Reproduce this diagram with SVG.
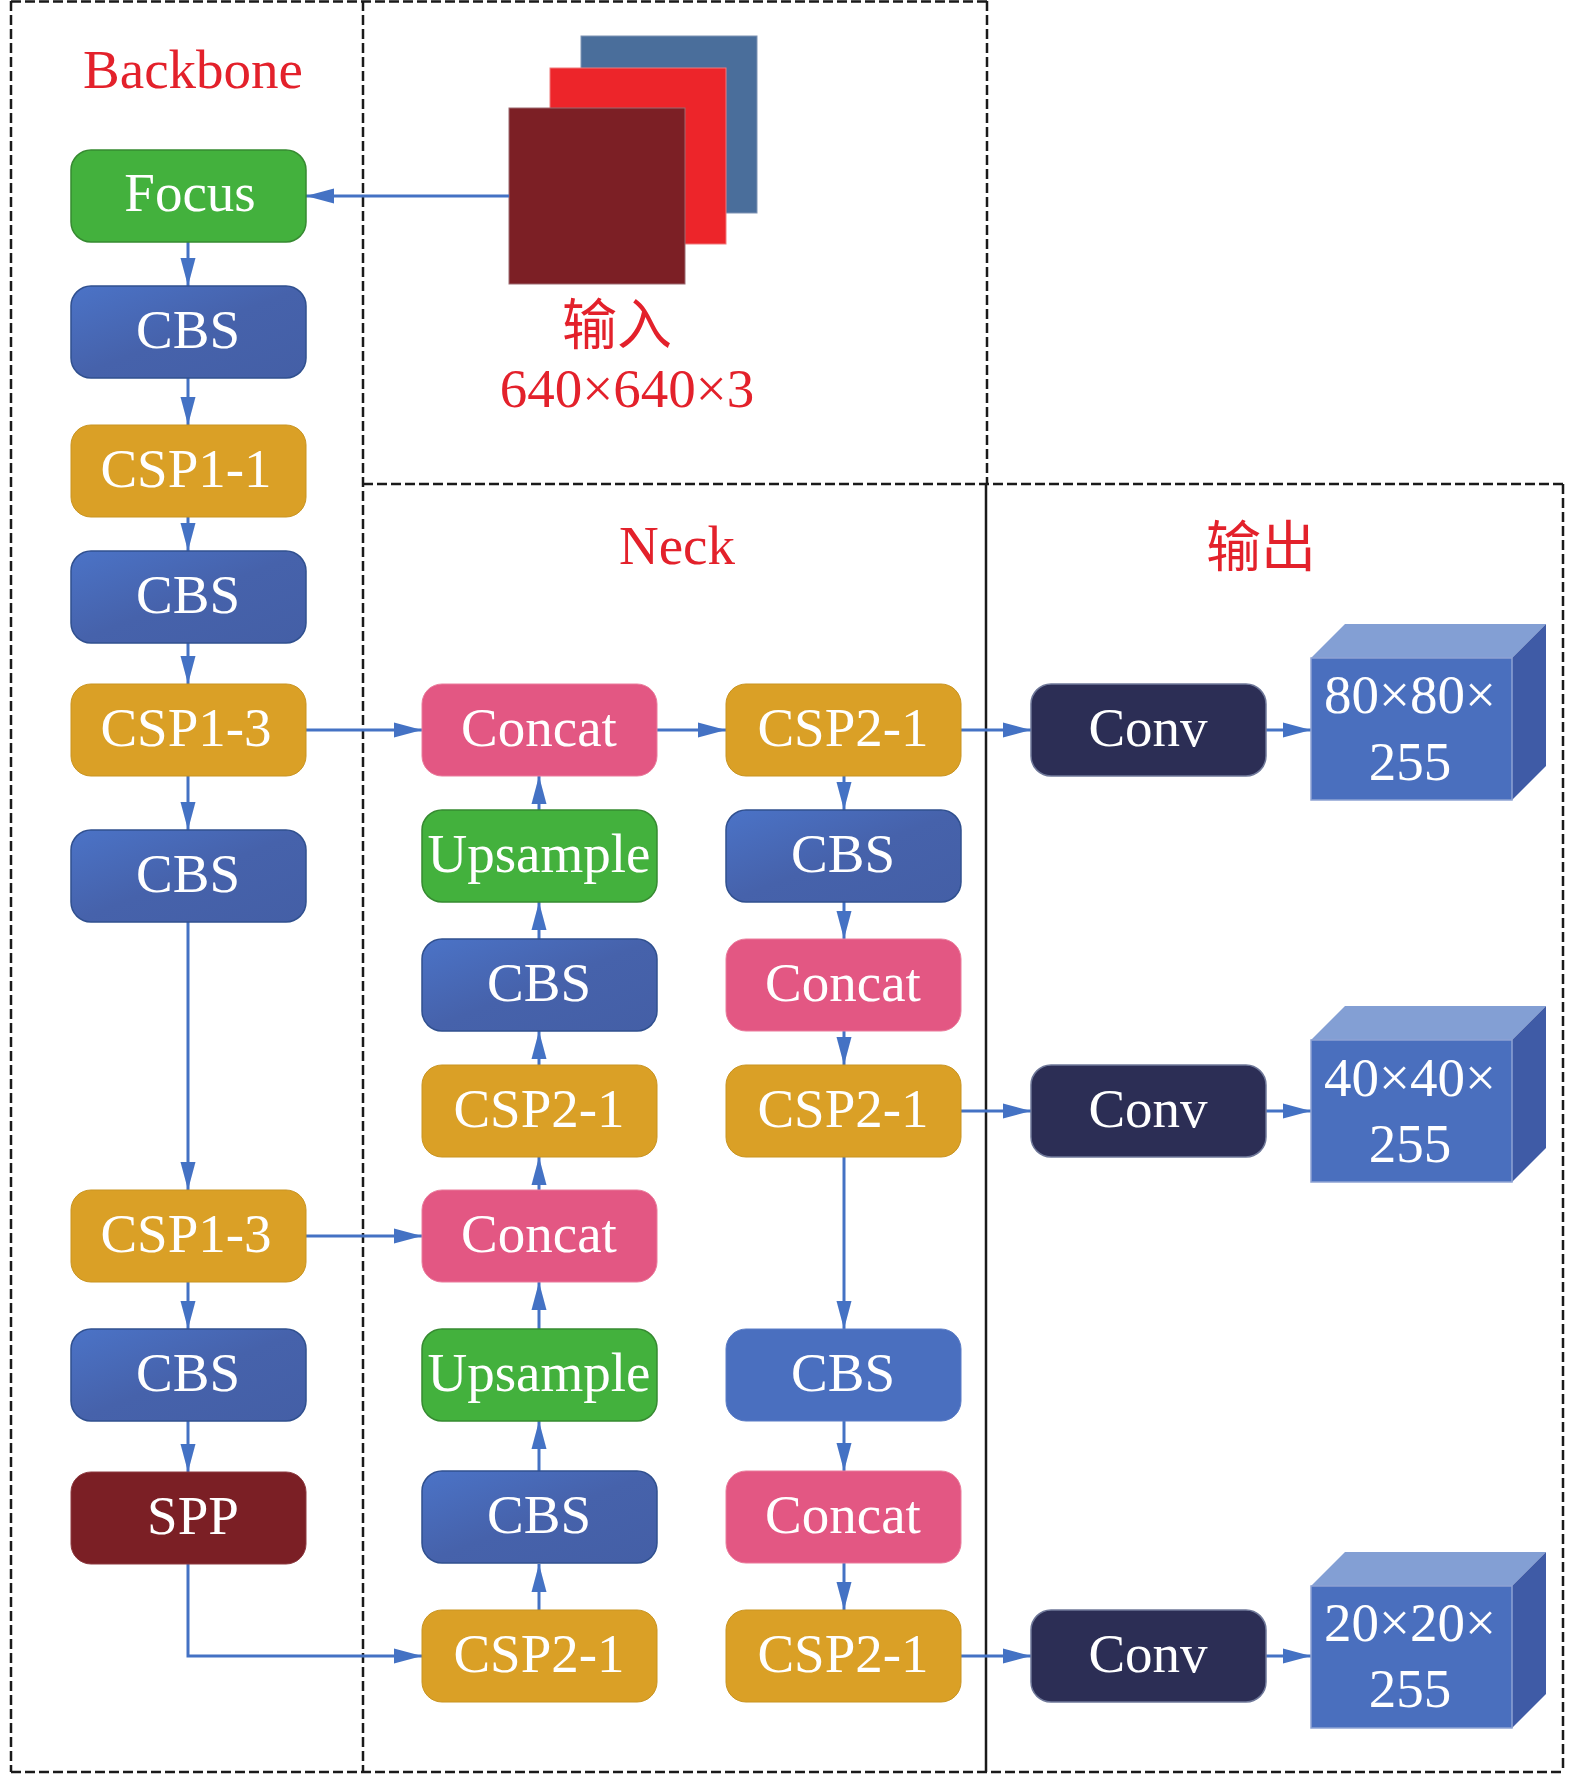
<svg xmlns="http://www.w3.org/2000/svg" width="1575" height="1774" viewBox="0 0 1575 1774">
<defs>
<style>
.panel{fill:none;stroke:#1a1a1a;stroke-width:2.5;stroke-dasharray:10 4}
.solid{fill:none;stroke:#1a1a1a;stroke-width:2.5}
.lbl{font-family:"Liberation Serif","Noto Sans CJK SC",serif;font-size:55px;fill:#ffffff;text-anchor:middle}
.title{font-family:"Liberation Serif","Noto Sans CJK SC",serif;font-size:55px;fill:#e3212b;text-anchor:middle}
.green{fill:#43b13d;stroke:#368a31;stroke-width:1.5}
.cbs{fill:url(#gCBS);stroke:#30508f;stroke-width:1.5}
.cbsflat{fill:#4a6fbf;stroke:#5a7cc6;stroke-width:1}
.csp{fill:#daa026;stroke:#c99420;stroke-width:1}
.concat{fill:#e35783;stroke:#ea7c9c;stroke-width:1}
.spp{fill:#7b1f25;stroke:#8d3a40;stroke-width:1}
.conv{fill:#2c2e55;stroke:#6f7899;stroke-width:1.5}
.conn{fill:none;stroke:#4472c4;stroke-width:3}
.cfront{fill:#4a6fbe;stroke:#8ea3d3;stroke-width:1.5}
.ctop{fill:#839fd4}
.cright{fill:#3f5ba6}
</style>
<linearGradient id="gCBS" x1="0" y1="0" x2="1" y2="1">
<stop offset="0" stop-color="#4b73c7"/>
<stop offset="0.5" stop-color="#4662ab"/>
<stop offset="1" stop-color="#445fa6"/>
</linearGradient>
<marker id="ah" markerUnits="userSpaceOnUse" markerWidth="30" markerHeight="16" refX="28" refY="8" orient="auto">
<path d="M0,0.5 L28,8 L0,15.5 z" fill="#4472c4"/>
</marker>
</defs>

<g id="panels">
<line class="panel" x1="11" y1="1.5" x2="987" y2="1.5"/>
<line class="panel" x1="11" y1="1" x2="11" y2="1772"/>
<line class="panel" x1="363" y1="1" x2="363" y2="1772"/>
<line class="panel" x1="987" y1="1" x2="987" y2="484"/>
<line class="panel" x1="363" y1="484" x2="1563" y2="484"/>
<line class="solid" x1="986" y1="484" x2="986" y2="1772"/>
<line class="panel" x1="1563" y1="484" x2="1563" y2="1772"/>
<line class="panel" x1="11" y1="1772" x2="1563" y2="1772"/>
</g>

<g id="titles">
<text class="title" x="193" y="88">Backbone</text>
<text class="title" x="677" y="564">Neck</text>
<text class="title" x="1261" y="566">输出</text>
</g>

<g id="input">
<rect x="581" y="36" width="176" height="177" fill="#4a6e9b" stroke="#7f93b3" stroke-width="1"/>
<rect x="550" y="68" width="176" height="176" fill="#ed252a" stroke="#f07a7c" stroke-width="1"/>
<rect x="509" y="108" width="176" height="176" fill="#7c1f25" stroke="#9c6a70" stroke-width="1"/>
<text class="title" x="617" y="344" font-size="52">输入</text>
<text class="title" x="627" y="407">640×640×3</text>
</g>

<g id="connectors">
<line class="conn" x1="509" y1="196" x2="306" y2="196" marker-end="url(#ah)"/>
<line class="conn" x1="188" y1="242" x2="188" y2="286" marker-end="url(#ah)"/>
<line class="conn" x1="188" y1="378" x2="188" y2="425" marker-end="url(#ah)"/>
<line class="conn" x1="188" y1="517" x2="188" y2="551" marker-end="url(#ah)"/>
<line class="conn" x1="188" y1="643" x2="188" y2="684" marker-end="url(#ah)"/>
<line class="conn" x1="188" y1="776" x2="188" y2="830" marker-end="url(#ah)"/>
<line class="conn" x1="188" y1="922" x2="188" y2="1190" marker-end="url(#ah)"/>
<line class="conn" x1="188" y1="1282" x2="188" y2="1329" marker-end="url(#ah)"/>
<line class="conn" x1="188" y1="1421" x2="188" y2="1472" marker-end="url(#ah)"/>
<polyline class="conn" points="188,1564 188,1656 422,1656" marker-end="url(#ah)"/>
<line class="conn" x1="306" y1="730" x2="422" y2="730" marker-end="url(#ah)"/>
<line class="conn" x1="306" y1="1236" x2="422" y2="1236" marker-end="url(#ah)"/>
<line class="conn" x1="539" y1="1610" x2="539" y2="1564" marker-end="url(#ah)"/>
<line class="conn" x1="539" y1="1471" x2="539" y2="1421" marker-end="url(#ah)"/>
<line class="conn" x1="539" y1="1329" x2="539" y2="1282" marker-end="url(#ah)"/>
<line class="conn" x1="539" y1="1190" x2="539" y2="1157" marker-end="url(#ah)"/>
<line class="conn" x1="539" y1="1065" x2="539" y2="1031" marker-end="url(#ah)"/>
<line class="conn" x1="539" y1="939" x2="539" y2="902" marker-end="url(#ah)"/>
<line class="conn" x1="539" y1="810" x2="539" y2="776" marker-end="url(#ah)"/>
<line class="conn" x1="657" y1="730" x2="726" y2="730" marker-end="url(#ah)"/>
<line class="conn" x1="844" y1="776" x2="844" y2="810" marker-end="url(#ah)"/>
<line class="conn" x1="844" y1="902" x2="844" y2="939" marker-end="url(#ah)"/>
<line class="conn" x1="844" y1="1031" x2="844" y2="1065" marker-end="url(#ah)"/>
<line class="conn" x1="844" y1="1157" x2="844" y2="1329" marker-end="url(#ah)"/>
<line class="conn" x1="844" y1="1421" x2="844" y2="1471" marker-end="url(#ah)"/>
<line class="conn" x1="844" y1="1563" x2="844" y2="1610" marker-end="url(#ah)"/>
<line class="conn" x1="961" y1="730" x2="1031" y2="730" marker-end="url(#ah)"/>
<line class="conn" x1="961" y1="1111" x2="1031" y2="1111" marker-end="url(#ah)"/>
<line class="conn" x1="961" y1="1656" x2="1031" y2="1656" marker-end="url(#ah)"/>
<line class="conn" x1="1266" y1="730" x2="1311" y2="730" marker-end="url(#ah)"/>
<line class="conn" x1="1266" y1="1111" x2="1311" y2="1111" marker-end="url(#ah)"/>
<line class="conn" x1="1266" y1="1656" x2="1311" y2="1656" marker-end="url(#ah)"/>
</g>

<g id="bb-focus"><rect class="green" x="71" y="150" width="235" height="92" rx="20"/><text class="lbl" x="190" y="211">Focus</text></g>
<g id="bb-cbs1"><rect class="cbs" x="71" y="286" width="235" height="92" rx="20"/><text class="lbl" x="188" y="348">CBS</text></g>
<g id="bb-csp11"><rect class="csp" x="71" y="425" width="235" height="92" rx="20"/><text class="lbl" x="186" y="487">CSP1-1</text></g>
<g id="bb-cbs2"><rect class="cbs" x="71" y="551" width="235" height="92" rx="20"/><text class="lbl" x="188" y="613">CBS</text></g>
<g id="bb-csp13a"><rect class="csp" x="71" y="684" width="235" height="92" rx="20"/><text class="lbl" x="186" y="746">CSP1-3</text></g>
<g id="bb-cbs3"><rect class="cbs" x="71" y="830" width="235" height="92" rx="20"/><text class="lbl" x="188" y="892">CBS</text></g>
<g id="bb-csp13b"><rect class="csp" x="71" y="1190" width="235" height="92" rx="20"/><text class="lbl" x="186" y="1252">CSP1-3</text></g>
<g id="bb-cbs4"><rect class="cbs" x="71" y="1329" width="235" height="92" rx="20"/><text class="lbl" x="188" y="1391">CBS</text></g>
<g id="bb-spp"><rect class="spp" x="71" y="1472" width="235" height="92" rx="20"/><text class="lbl" x="193" y="1534">SPP</text></g>

<g id="n1-concat1"><rect class="concat" x="422" y="684" width="235" height="92" rx="20"/><text class="lbl" x="539" y="746">Concat</text></g>
<g id="n1-up1"><rect class="green" x="422" y="810" width="235" height="92" rx="20"/><text class="lbl" x="539" y="872">Upsample</text></g>
<g id="n1-cbs1"><rect class="cbs" x="422" y="939" width="235" height="92" rx="20"/><text class="lbl" x="539" y="1001">CBS</text></g>
<g id="n1-csp1"><rect class="csp" x="422" y="1065" width="235" height="92" rx="20"/><text class="lbl" x="539" y="1127">CSP2-1</text></g>
<g id="n1-concat2"><rect class="concat" x="422" y="1190" width="235" height="92" rx="20"/><text class="lbl" x="539" y="1252">Concat</text></g>
<g id="n1-up2"><rect class="green" x="422" y="1329" width="235" height="92" rx="20"/><text class="lbl" x="539" y="1391">Upsample</text></g>
<g id="n1-cbs2"><rect class="cbs" x="422" y="1471" width="235" height="92" rx="20"/><text class="lbl" x="539" y="1533">CBS</text></g>
<g id="n1-csp2"><rect class="csp" x="422" y="1610" width="235" height="92" rx="20"/><text class="lbl" x="539" y="1672">CSP2-1</text></g>

<g id="n2-csp1"><rect class="csp" x="726" y="684" width="235" height="92" rx="20"/><text class="lbl" x="843" y="746">CSP2-1</text></g>
<g id="n2-cbs1"><rect class="cbs" x="726" y="810" width="235" height="92" rx="20"/><text class="lbl" x="843" y="872">CBS</text></g>
<g id="n2-concat1"><rect class="concat" x="726" y="939" width="235" height="92" rx="20"/><text class="lbl" x="843" y="1001">Concat</text></g>
<g id="n2-csp2"><rect class="csp" x="726" y="1065" width="235" height="92" rx="20"/><text class="lbl" x="843" y="1127">CSP2-1</text></g>
<g id="n2-cbs2"><rect class="cbsflat" x="726" y="1329" width="235" height="92" rx="20"/><text class="lbl" x="843" y="1391">CBS</text></g>
<g id="n2-concat2"><rect class="concat" x="726" y="1471" width="235" height="92" rx="20"/><text class="lbl" x="843" y="1533">Concat</text></g>
<g id="n2-csp3"><rect class="csp" x="726" y="1610" width="235" height="92" rx="20"/><text class="lbl" x="843" y="1672">CSP2-1</text></g>

<g id="conv1"><rect class="conv" x="1031" y="684" width="235" height="92" rx="20"/><text class="lbl" x="1148" y="746">Conv</text></g>
<g id="conv2"><rect class="conv" x="1031" y="1065" width="235" height="92" rx="20"/><text class="lbl" x="1148" y="1127">Conv</text></g>
<g id="conv3"><rect class="conv" x="1031" y="1610" width="235" height="92" rx="20"/><text class="lbl" x="1148" y="1672">Conv</text></g>

<g id="out1">
<polygon class="ctop" points="1311,658 1345,624 1546,624 1512,658"/>
<polygon class="cright" points="1512,658 1546,624 1546,766 1512,800"/>
<rect class="cfront" x="1311" y="658" width="201" height="142"/>
<text class="lbl" x="1410" y="713">80×80×</text>
<text class="lbl" x="1410" y="780">255</text>
</g>
<g id="out2">
<polygon class="ctop" points="1311,1040 1345,1006 1546,1006 1512,1040"/>
<polygon class="cright" points="1512,1040 1546,1006 1546,1148 1512,1182"/>
<rect class="cfront" x="1311" y="1040" width="201" height="142"/>
<text class="lbl" x="1410" y="1096">40×40×</text>
<text class="lbl" x="1410" y="1162">255</text>
</g>
<g id="out3">
<polygon class="ctop" points="1311,1586 1345,1552 1546,1552 1512,1586"/>
<polygon class="cright" points="1512,1586 1546,1552 1546,1694 1512,1728"/>
<rect class="cfront" x="1311" y="1586" width="201" height="142"/>
<text class="lbl" x="1410" y="1641">20×20×</text>
<text class="lbl" x="1410" y="1707">255</text>
</g>
</svg>
